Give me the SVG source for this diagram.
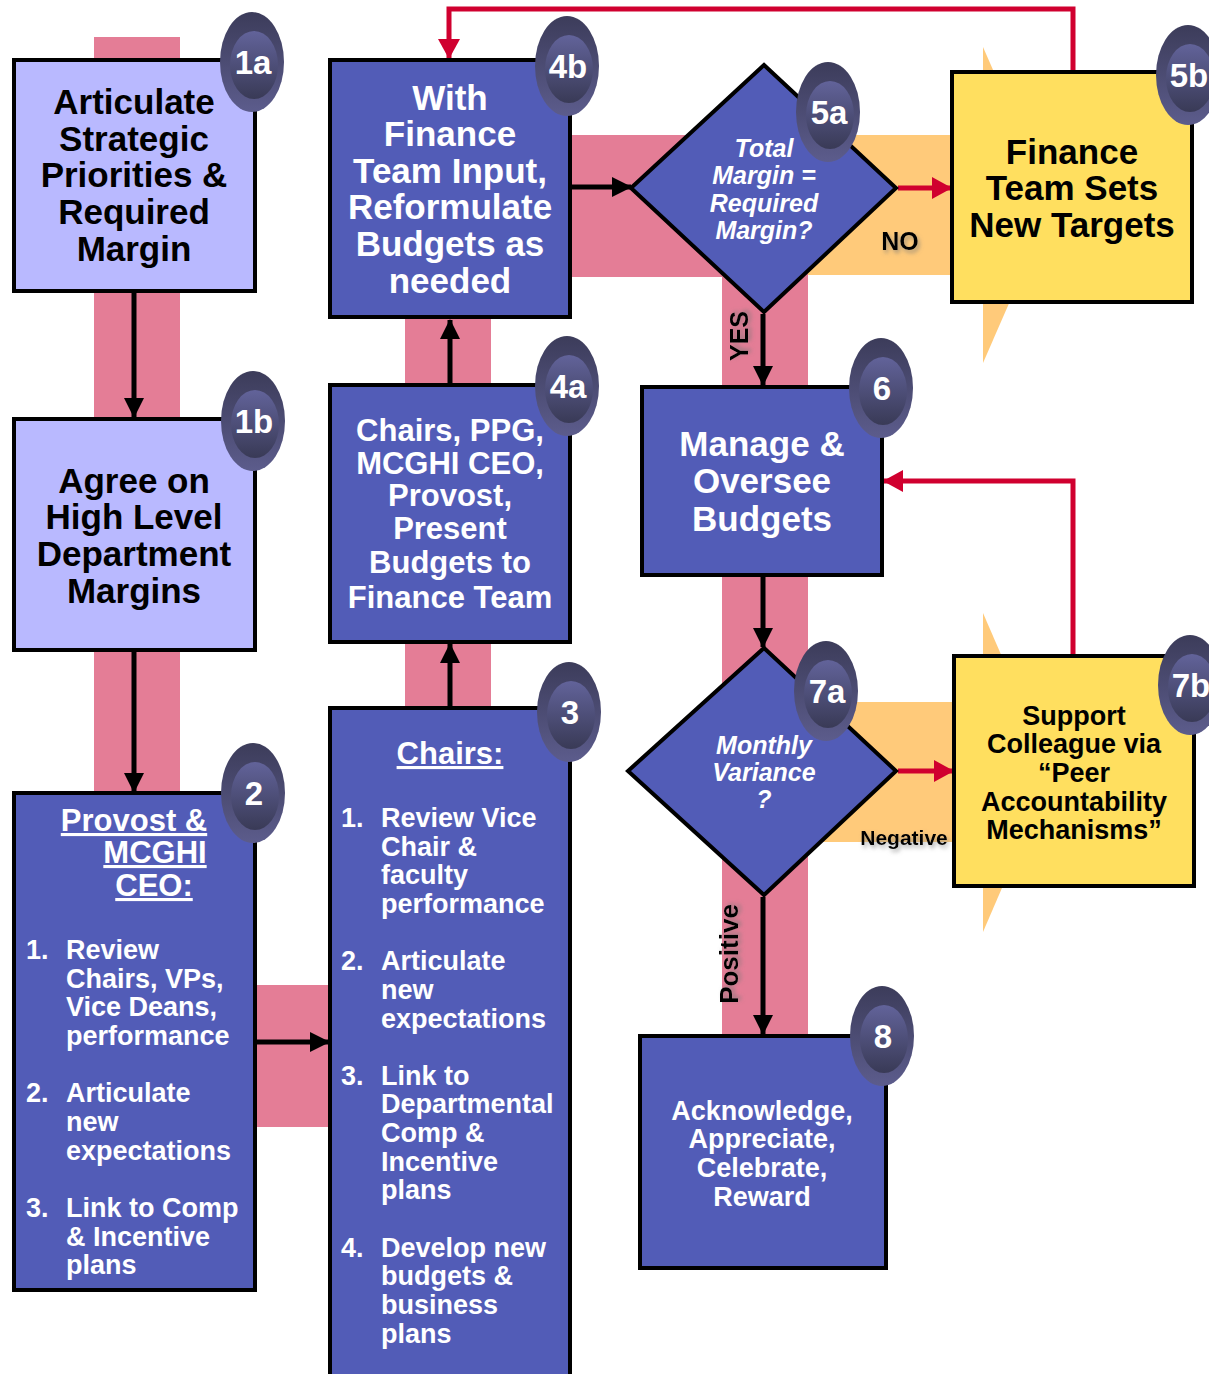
<svg xmlns="http://www.w3.org/2000/svg" width="1209" height="1374" viewBox="0 0 1209 1374">
  <defs>
    <style>
      .band { fill: #E47D96; }
      .oband { fill: #FFCA7A; }
      .box { stroke: #000; stroke-width: 4; }
      .blue { fill: #525CB7; }
      .lav { fill: #B9B9FF; }
      .yel { fill: #FFDF5F; }
      .t { font-family: "Liberation Sans", Arial, sans-serif; font-weight: bold; text-anchor: middle; }
      .tl { font-family: "Liberation Sans", Arial, sans-serif; font-weight: bold; }
      .w { fill: #fff; }
      .k { fill: #000; }
      .f35 { font-size: 35px; }
      .f31 { font-size: 31px; }
      .f27 { font-size: 27px; }
      .f25 { font-size: 25px; }
      .it { font-style: italic; }
      .u { text-decoration: underline; }
      .blk { stroke: #000; stroke-width: 5; fill: none; }
      .red { stroke: #D0002F; stroke-width: 5; fill: none; }
      .badge-t { font-family: "Liberation Sans", Arial, sans-serif; font-weight: bold; font-size: 33px; fill: #fff; text-anchor: middle; }
      .lbl { font-family: "Liberation Sans", Arial, sans-serif; font-weight: bold; fill: #000; filter: url(#shadow); }
    </style>
    <linearGradient id="ringGrad" x1="0" y1="0" x2="0" y2="1">
      <stop offset="0" stop-color="#3C3C5A"/>
      <stop offset="1" stop-color="#5C5C8C"/>
    </linearGradient>
    <linearGradient id="coreGrad" x1="0" y1="0" x2="0" y2="1">
      <stop offset="0" stop-color="#62639A"/>
      <stop offset="1" stop-color="#393A56"/>
    </linearGradient>
    <filter id="shadow" x="-20%" y="-30%" width="150%" height="180%">
      <feDropShadow dx="2" dy="3" stdDeviation="2" flood-color="#777" flood-opacity="0.6"/>
    </filter>
    <marker id="ahBlack" markerUnits="userSpaceOnUse" markerWidth="20" markerHeight="20" viewBox="0 0 20 20" refX="19" refY="10" orient="auto">
      <path d="M0,0 L20,10 L0,20 z" fill="#000"/>
    </marker>
    <marker id="ahRed" markerUnits="userSpaceOnUse" markerWidth="20" markerHeight="22" viewBox="0 0 20 22" refX="19" refY="11" orient="auto">
      <path d="M0,0 L20,11 L0,22 z" fill="#D0002F"/>
    </marker>
    <g id="badge">
      <ellipse cx="0" cy="0" rx="32" ry="50" fill="url(#ringGrad)"/>
      <ellipse cx="2" cy="3" rx="24" ry="34" fill="url(#coreGrad)"/>
    </g>
  </defs>

  <rect width="1209" height="1374" fill="#fff"/>

  <!-- wide flow bands behind the boxes -->
  <g id="bands">
    <rect class="band" x="94" y="37" width="86" height="760"/>
    <rect class="band" x="250" y="985" width="85" height="142"/>
    <rect class="band" x="405" y="312" width="86" height="400"/>
    <rect class="band" x="566" y="135" width="200" height="142"/>
    <rect class="oband" x="764" y="135" width="192" height="140"/>
    <polygon class="oband" points="983,47 1052,205 983,363"/>
    <rect class="band" x="722" y="272" width="86" height="768"/>
    <rect class="oband" x="808" y="702" width="150" height="140"/>
    <polygon class="oband" points="983,613 1052,772 983,932"/>
  </g>

  <!-- connectors -->
  <g id="connectors">
    <line class="blk" x1="134" y1="292" x2="134" y2="417" marker-end="url(#ahBlack)"/>
    <line class="blk" x1="134" y1="651" x2="134" y2="792" marker-end="url(#ahBlack)"/>
    <line class="blk" x1="256" y1="1042" x2="329" y2="1042" marker-end="url(#ahBlack)"/>
    <line class="blk" x1="450" y1="707" x2="450" y2="644" marker-end="url(#ahBlack)"/>
    <line class="blk" x1="450" y1="384" x2="450" y2="320" marker-end="url(#ahBlack)"/>
    <line class="blk" x1="571" y1="187" x2="631" y2="187" marker-end="url(#ahBlack)"/>
    <line class="blk" x1="763" y1="314" x2="763" y2="385" marker-end="url(#ahBlack)"/>
    <line class="blk" x1="763" y1="576" x2="763" y2="647" marker-end="url(#ahBlack)"/>
    <line class="blk" x1="763" y1="897" x2="763" y2="1034" marker-end="url(#ahBlack)"/>
    <line class="red" x1="898" y1="188" x2="951" y2="188" marker-end="url(#ahRed)"/>
    <line class="red" x1="898" y1="771" x2="953" y2="771" marker-end="url(#ahRed)"/>
    <polyline class="red" points="1073,72 1073,9 449,9 449,58" marker-end="url(#ahRed)"/>
    <polyline class="red" points="1073,656 1073,481 884,481" marker-end="url(#ahRed)"/>
  </g>

  <!-- branch labels -->
  <g id="labels">
    <text class="lbl" x="900" y="250" font-size="25" text-anchor="middle">NO</text>
    <text class="lbl" font-size="25" text-anchor="middle" transform="translate(748,336) rotate(-90)">YES</text>
    <text class="lbl" x="904" y="845" font-size="21" text-anchor="middle">Negative</text>
    <text class="lbl" font-size="26" text-anchor="middle" transform="translate(738,954) rotate(-90)">Positive</text>
  </g>

  <g id="n1a">
    <rect class="box lav" x="14" y="60" width="241" height="231"/>
    <text class="t k f35"><tspan x="134" y="114">Articulate</tspan><tspan x="134" y="151">Strategic</tspan><tspan x="134" y="187">Priorities &amp;</tspan><tspan x="134" y="224">Required</tspan><tspan x="134" y="261">Margin</tspan></text>
    <use href="#badge" x="252" y="62"/>
    <text class="badge-t" x="253" y="74">1a</text>
  </g>

  <g id="n1b">
    <rect class="box lav" x="14" y="419" width="241" height="231"/>
    <text class="t k f35"><tspan x="134" y="493">Agree on</tspan><tspan x="134" y="529">High Level</tspan><tspan x="134" y="566">Department</tspan><tspan x="134" y="603">Margins</tspan></text>
    <use href="#badge" x="253" y="421"/>
    <text class="badge-t" x="254" y="433">1b</text>
  </g>

  <g id="n2">
    <rect class="box blue" x="14" y="793" width="241" height="497"/>
    <text class="t w f31 u" x="134" y="831">Provost &amp;</text>
    <text class="t w f31 u" x="155" y="863">MCGHI</text>
    <text class="t w f31 u" x="154" y="896">CEO:</text>
    <text class="tl w f27">
      <tspan x="26" y="959">1.</tspan><tspan x="66" y="959">Review</tspan>
      <tspan x="66" y="988">Chairs, VPs,</tspan>
      <tspan x="66" y="1016">Vice Deans,</tspan>
      <tspan x="66" y="1045">performance</tspan>
      <tspan x="26" y="1102">2.</tspan><tspan x="66" y="1102">Articulate</tspan>
      <tspan x="66" y="1131">new</tspan>
      <tspan x="66" y="1160">expectations</tspan>
      <tspan x="26" y="1217">3.</tspan><tspan x="66" y="1217">Link to Comp</tspan>
      <tspan x="66" y="1246">&amp; Incentive</tspan>
      <tspan x="66" y="1274">plans</tspan>
    </text>
    <use href="#badge" x="253" y="793"/>
    <text class="badge-t" x="254" y="805">2</text>
  </g>

  <g id="n3">
    <rect class="box blue" x="330" y="708" width="240" height="680"/>
    <text class="t w f31 u" x="450" y="764">Chairs:</text>
    <text class="tl w f27">
      <tspan x="341" y="827">1.</tspan><tspan x="381" y="827">Review Vice</tspan>
      <tspan x="381" y="856">Chair &amp;</tspan>
      <tspan x="381" y="884">faculty</tspan>
      <tspan x="381" y="913">performance</tspan>
      <tspan x="341" y="970">2.</tspan><tspan x="381" y="970">Articulate</tspan>
      <tspan x="381" y="999">new</tspan>
      <tspan x="381" y="1028">expectations</tspan>
      <tspan x="341" y="1085">3.</tspan><tspan x="381" y="1085">Link to</tspan>
      <tspan x="381" y="1113">Departmental</tspan>
      <tspan x="381" y="1142">Comp &amp;</tspan>
      <tspan x="381" y="1171">Incentive</tspan>
      <tspan x="381" y="1199">plans</tspan>
      <tspan x="341" y="1257">4.</tspan><tspan x="381" y="1257">Develop new</tspan>
      <tspan x="381" y="1285">budgets &amp;</tspan>
      <tspan x="381" y="1314">business</tspan>
      <tspan x="381" y="1343">plans</tspan>
    </text>
    <use href="#badge" x="569" y="712"/>
    <text class="badge-t" x="570" y="724">3</text>
  </g>

  <g id="n4a">
    <rect class="box blue" x="330" y="385" width="240" height="257"/>
    <text class="t w f31"><tspan x="450" y="441">Chairs, PPG,</tspan><tspan x="450" y="474">MCGHI CEO,</tspan><tspan x="450" y="506">Provost,</tspan><tspan x="450" y="539">Present</tspan><tspan x="450" y="573">Budgets to</tspan><tspan x="450" y="608">Finance Team</tspan></text>
    <use href="#badge" x="567" y="386"/>
    <text class="badge-t" x="568" y="398">4a</text>
  </g>

  <g id="n4b">
    <rect class="box blue" x="330" y="60" width="240" height="257"/>
    <text class="t w f35"><tspan x="450" y="110">With</tspan><tspan x="450" y="146">Finance</tspan><tspan x="450" y="183">Team Input,</tspan><tspan x="450" y="219">Reformulate</tspan><tspan x="450" y="256">Budgets as</tspan><tspan x="450" y="293">needed</tspan></text>
    <use href="#badge" x="567" y="66"/>
    <text class="badge-t" x="568" y="78">4b</text>
  </g>

  <g id="n5a">
    <polygon class="box blue" points="764,65 896,188 764,312 631,188"/>
    <text class="t w f25 it"><tspan x="764" y="157">Total</tspan><tspan x="764" y="184">Margin =</tspan><tspan x="764" y="212">Required</tspan><tspan x="764" y="239">Margin?</tspan></text>
    <use href="#badge" x="828" y="112"/>
    <text class="badge-t" x="829" y="124">5a</text>
  </g>

  <g id="n5b">
    <rect class="box yel" x="952" y="72" width="240" height="230"/>
    <text class="t k f35"><tspan x="1072" y="164">Finance</tspan><tspan x="1072" y="200">Team Sets</tspan><tspan x="1072" y="237">New Targets</tspan></text>
    <use href="#badge" x="1188" y="75"/>
    <text class="badge-t" x="1189" y="87">5b</text>
  </g>

  <g id="n6">
    <rect class="box blue" x="642" y="387" width="240" height="188"/>
    <text class="t w f35"><tspan x="762" y="456">Manage &amp;</tspan><tspan x="762" y="493">Oversee</tspan><tspan x="762" y="531">Budgets</tspan></text>
    <use href="#badge" x="881" y="388"/>
    <text class="badge-t" x="882" y="400">6</text>
  </g>

  <g id="n7a">
    <polygon class="box blue" points="764,648 896,771 764,895 628,771"/>
    <text class="t w f25 it"><tspan x="764" y="754">Monthly</tspan><tspan x="764" y="781">Variance</tspan><tspan x="764" y="808">?</tspan></text>
    <use href="#badge" x="826" y="691"/>
    <text class="badge-t" x="827" y="703">7a</text>
  </g>

  <g id="n7b">
    <rect class="box yel" x="954" y="656" width="240" height="230"/>
    <text class="t k f27"><tspan x="1074" y="725">Support</tspan><tspan x="1074" y="753">Colleague via</tspan><tspan x="1074" y="782">“Peer</tspan><tspan x="1074" y="811">Accountability</tspan><tspan x="1074" y="839">Mechanisms”</tspan></text>
    <use href="#badge" x="1190" y="685"/>
    <text class="badge-t" x="1191" y="697">7b</text>
  </g>

  <g id="n8">
    <rect class="box blue" x="640" y="1036" width="246" height="232"/>
    <text class="t w f27"><tspan x="762" y="1120">Acknowledge,</tspan><tspan x="762" y="1148">Appreciate,</tspan><tspan x="762" y="1177">Celebrate,</tspan><tspan x="762" y="1206">Reward</tspan></text>
    <use href="#badge" x="882" y="1036"/>
    <text class="badge-t" x="883" y="1048">8</text>
  </g>
</svg>
